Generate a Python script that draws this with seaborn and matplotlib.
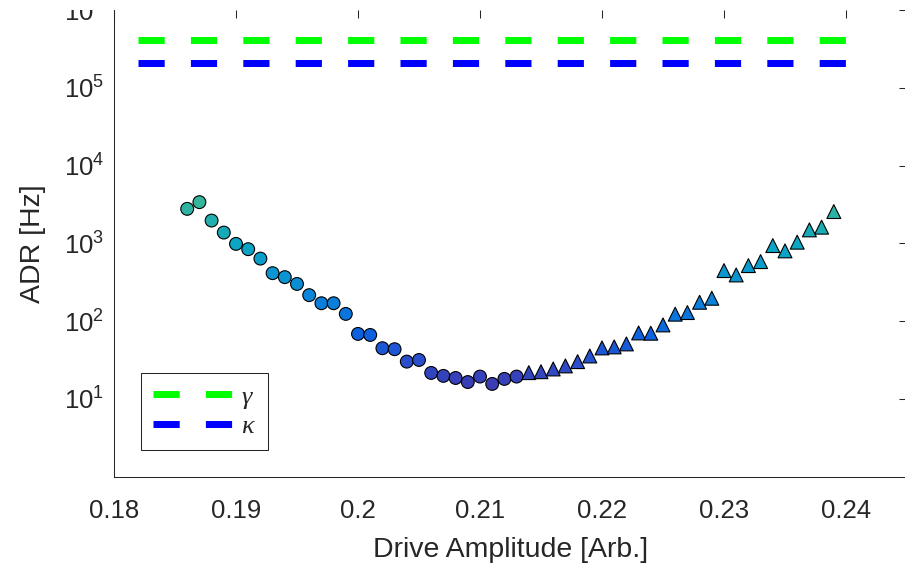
import numpy as np
import pandas as pd
import matplotlib
matplotlib.use("Agg")
import matplotlib.pyplot as plt
import seaborn as sns
from matplotlib.colors import LinearSegmentedColormap
from matplotlib.patches import Rectangle
from matplotlib.ticker import NullLocator

# ---------------- data ----------------
amp_circle = [0.186, 0.187, 0.188, 0.189, 0.190, 0.191, 0.192, 0.193, 0.194, 0.195,
              0.196, 0.197, 0.198, 0.199, 0.200, 0.201, 0.202, 0.203, 0.204, 0.205,
              0.206, 0.207, 0.208, 0.209, 0.210, 0.211, 0.212, 0.213]
adr_circle = [2778, 3388, 1965, 1377, 985, 842, 637, 414, 368, 301,
              216, 170, 170, 124, 68.6, 66.5, 44.9, 43.6, 30.2, 31.7,
              21.6, 19.8, 18.6, 16.5, 19.4, 15.6, 18.1, 19.4]

amp_triangle = [0.214, 0.215, 0.216, 0.217, 0.218, 0.219, 0.220, 0.221, 0.222, 0.223,
                0.224, 0.225, 0.226, 0.227, 0.228, 0.229, 0.230, 0.231, 0.232, 0.233,
                0.234, 0.235, 0.236, 0.237, 0.238, 0.239]
adr_triangle = [21.8, 22.4, 24.3, 26.6, 30.2, 35.7, 45.3, 46.7, 51.0, 70.6,
                70.0, 89.5, 123, 129, 175, 197, 447, 393, 518, 583,
                937, 801, 1036, 1491, 1616, 2565]

gamma_value = 4.1e5
kappa_value = 2.1e5
ref_line_x = [0.182, 0.240]

xtick_values = [0.18, 0.19, 0.20, 0.21, 0.22, 0.23, 0.24]
xtick_labels = ["0.18", "0.19", "0.2", "0.21", "0.22", "0.23", "0.24"]
ytick_values = [1e1, 1e2, 1e3, 1e4, 1e5, 1e6]

# ---------------- style ----------------
sns.set_theme(style="white")
plt.rcParams["font.family"] = ["Liberation Sans", "DejaVu Sans"]
plt.rcParams["mathtext.fontset"] = "custom"
plt.rcParams["mathtext.rm"] = "Liberation Sans"
plt.rcParams["mathtext.it"] = "Liberation Serif:italic"

axis_color = "#262626"

lo = np.log10(min(adr_circle + adr_triangle))
hi = np.log10(max(adr_circle + adr_triangle))
cmap = LinearSegmentedColormap.from_list(
    "parula_part",
    [(0.0, "#3b3db3"), (0.13, "#2a4fcc"), (0.28, "#0c62e0"), (0.39, "#0a76dc"),
     (0.56, "#0c90d4"), (0.77, "#0aa6c4"), (1.0, "#35b59c")])

df_c = pd.DataFrame({"amp": amp_circle, "adr": adr_circle})
df_c["logadr"] = np.log10(df_c["adr"])
df_t = pd.DataFrame({"amp": amp_triangle, "adr": adr_triangle})
df_t["logadr"] = np.log10(df_t["adr"])

fig = plt.figure(figsize=(9.05, 5.64), dpi=100)
ax = fig.add_axes([114 / 905, 87.25 / 564, 793 / 905, 466.75 / 564])

# reference lines
lw_px = 7
dash = 26.2 / lw_px
sns.lineplot(x=ref_line_x, y=[gamma_value] * 2, color="#00ff00", linewidth=lw_px * 0.72,
             linestyle=(0, (dash, dash)), label=r"$\gamma$", ax=ax)
sns.lineplot(x=ref_line_x, y=[kappa_value] * 2, color="#0000ff", linewidth=lw_px * 0.72,
             linestyle=(0, (dash, dash)), label=r"$\kappa$", ax=ax)

sns.scatterplot(data=df_c, x="amp", y="adr", hue="logadr", palette=cmap, hue_norm=(lo, hi),
                marker="o", s=85, edgecolor="black", linewidth=0.8, legend=False, ax=ax, zorder=3)
sns.scatterplot(data=df_t, x="amp", y="adr", hue="logadr", palette=cmap, hue_norm=(lo, hi),
                marker="^", s=100, edgecolor="black", linewidth=0.8, legend=False, ax=ax, zorder=3)

ax.set_yscale("log")
ax.set_ylim(1, 1e6)
ax.set_xlim(0.18, 0.245)
ax.set_yticks(ytick_values)
ax.yaxis.set_minor_locator(NullLocator())
ax.set_xticks(xtick_values)
ax.set_xticklabels(xtick_labels)

ax.tick_params(axis="both", which="major", direction="in", length=5.5, width=0.75,
               colors=axis_color, labelsize=18.5, top=True, right=True)
ax.tick_params(axis="x", pad=16)
ax.tick_params(axis="y", pad=7)
for side in ["left", "bottom"]:
    ax.spines[side].set_color(axis_color)
    ax.spines[side].set_linewidth(0.75)
ax.spines["top"].set_visible(False)
ax.spines["right"].set_visible(False)

ax.set_xlabel("Drive Amplitude [Arb.]", fontsize=20.5, color=axis_color, labelpad=10)
ax.set_ylabel("ADR [Hz]", fontsize=20.5, color=axis_color, labelpad=13)

leg = ax.legend(loc="lower left", bbox_to_anchor=(27 / 793, 26.75 / 466.75), borderaxespad=0,
                fontsize=19, handlelength=3.0, handletextpad=0.35, labelspacing=0.14,
                borderpad=0.44, frameon=True, fancybox=False, framealpha=1,
                edgecolor=axis_color)
leg.get_frame().set_linewidth(0.75)

# the reference image is cropped just at the top of the axes
fig.add_artist(Rectangle((0, 1 - 10 / 564), 1, 10 / 564, transform=fig.transFigure,
                         facecolor="white", edgecolor="none", zorder=100))

fig.savefig("out.png", dpi=100)
